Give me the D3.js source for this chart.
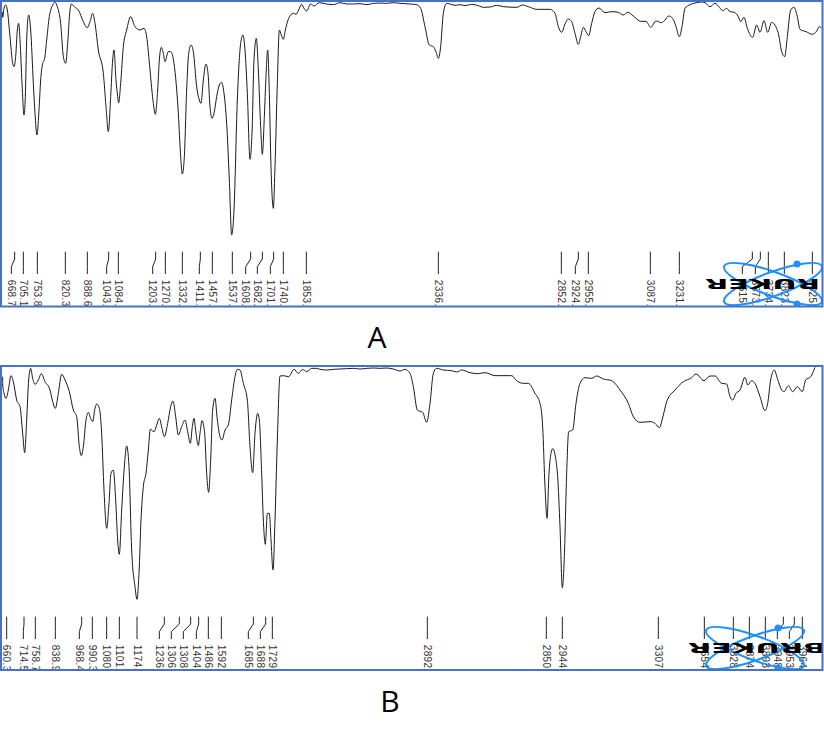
<!DOCTYPE html>
<html>

<head>
    <meta charset="utf-8">
    <title>IR spectra A and B</title>
    <style>
        html, body { margin: 0; padding: 0; background: #fff; }
        svg { display: block; }
    </style>
</head>

<body>
    <script src="https://d3js.org/d3.v7.min.js"></script>
    <script>
    // readings: [scan position, depth below the panel top]
    var spectrumA = [[8,36],[8,52],[12,25],[17,15],[22,30],[30,110],[38,190],[42,200],[47,170],[52,90],[56,70],[60,120],[66,250],[72,345],[76,290],[80,120],[86,45],[92,90],[100,250],[105,340],[111,405],[117,330],[122,240],[127,195],[134,175],[140,120],[148,50],[158,15],[165,7],[172,20],[182,70],[190,170],[197,190],[203,130],[210,30],[214,12],[225,22],[235,30],[250,65],[262,83],[270,65],[278,40],[285,70],[295,150],[310,220],[318,320],[325,395],[332,290],[338,180],[342,150],[348,240],[353,290],[356,308],[362,250],[370,140],[380,90],[392,50],[405,80],[420,90],[432,85],[440,110],[450,210],[460,310],[466,343],[473,270],[478,180],[484,142],[490,160],[495,185],[505,155],[512,155],[522,190],[535,340],[542,470],[547,522],[553,470],[560,270],[566,160],[573,135],[580,155],[590,260],[598,300],[603,310],[610,240],[618,192],[624,220],[630,320],[636,355],[642,340],[650,290],[658,255],[665,247],[672,280],[680,370],[688,540],[695,705],[702,630],[712,300],[722,130],[729,105],[735,150],[742,280],[750,478],[756,400],[762,180],[769,115],[775,210],[782,380],[787,463],[793,350],[798,230],[803,150],[808,280],[813,500],[820,625],[825,500],[832,250],[838,90],[844,105],[850,118],[856,90],[866,55],[880,40],[888,43],[896,30],[905,13],[912,25],[920,33],[932,12],[942,18],[958,8],[980,12],[1000,14],[1020,8],[1040,12],[1060,12],[1080,11],[1100,14],[1120,10],[1140,9],[1160,10],[1180,8],
        [1200,10],[1230,12],[1250,14],[1262,25],[1275,80],[1288,135],[1300,140],[1308,155],[1315,175],[1322,140],[1330,40],[1340,10],[1350,12],[1365,16],[1380,14],[1395,17],[1415,13],[1435,17],[1450,22],[1470,21],[1490,16],[1510,20],[1550,22],[1568,15],[1585,20],[1610,28],[1650,28],[1665,40],[1675,80],[1685,97],[1695,72],[1705,57],[1715,65],[1725,100],[1735,133],[1742,110],[1750,82],[1758,95],[1766,107],[1775,70],[1785,35],[1797,24],[1815,38],[1835,35],[1855,37],[1870,45],[1883,37],[1900,48],[1922,64],[1938,64],[1952,82],[1968,63],[1985,68],[1995,60],[2005,48],[2018,55],[2028,80],[2038,110],[2046,80],[2055,25],[2070,14],[2090,8],[2105,6],[2115,8],[2130,20],[2145,10],[2158,22],[2168,32],[2180,25],[2190,35],[2203,37],[2215,50],[2222,65],[2232,52],[2242,85],[2258,112],[2270,75],[2280,97],[2292,62],[2303,97],[2315,67],[2335,100],[2345,155],[2354,170],[2362,110],[2372,30],[2382,22],[2392,50],[2400,88],[2418,95],[2438,103],[2450,93],[2458,80],[2465,85]];

    var spectrumB = [[8,50],[8,72],[12,100],[18,115],[25,90],[33,47],[40,65],[50,120],[60,140],[68,220],[74,278],[80,180],[86,60],[92,25],[98,55],[105,73],[115,60],[124,41],[135,65],[150,90],[158,125],[166,145],[175,100],[185,43],[195,60],[208,95],[220,150],[230,170],[238,260],[244,287],[250,260],[258,180],[265,157],[272,175],[278,185],[285,145],[290,132],[298,145],[305,220],[312,390],[320,505],[327,430],[333,340],[340,330],[347,420],[353,540],[358,583],[365,450],[373,320],[380,258],[387,320],[395,570],[405,680],[411,718],[417,640],[423,480],[430,380],[438,340],[445,270],[451,208],[462,215],[470,195],[478,175],[486,205],[493,230],[503,190],[512,140],[519,123],[527,170],[535,225],[545,200],[555,180],[563,215],[571,250],[577,200],[582,175],[588,220],[595,257],[600,220],[606,182],[614,220],[620,340],[626,397],[632,300],[638,150],[645,115],[652,180],[660,230],[666,240],[675,210],[685,195],[695,120],[705,50],[712,28],[720,30],[730,70],[742,120],[750,260],[758,338],[765,220],[773,160],[778,180],[785,340],[790,480],[796,553],[802,460],[808,460],[813,540],[819,630],[825,480],[832,240],[840,48],[850,47],[866,50],[882,28],[895,40],[908,28],[920,35],[935,25],[950,25],[960,28],[980,30],[1000,28],[1020,27],[1040,26],[1060,25],[1080,27],[1100,25],[1120,24],[1140,25],[1160,24],[1180,27],
        [1200,33],[1215,28],[1230,40],[1240,80],[1252,150],[1268,157],[1280,187],[1290,130],[1300,40],[1310,25],[1330,30],[1355,32],[1370,36],[1385,30],[1410,38],[1435,41],[1455,38],[1485,47],[1535,47],[1550,62],[1570,70],[1585,70],[1605,100],[1620,130],[1628,200],[1635,380],[1641,475],[1647,340],[1653,280],[1658,266],[1667,295],[1673,350],[1680,500],[1687,683],[1693,590],[1700,340],[1706,215],[1718,210],[1728,130],[1740,70],[1755,53],[1775,55],[1790,48],[1810,57],[1835,62],[1860,90],[1885,130],[1900,170],[1920,187],[1950,185],[1965,190],[1978,203],[1990,165],[2000,125],[2025,90],[2050,65],[2075,53],[2088,42],[2112,62],[2130,48],[2145,48],[2165,70],[2180,72],[2190,110],[2198,120],[2208,100],[2220,90],[2235,52],[2243,75],[2255,62],[2265,70],[2280,110],[2295,152],[2303,130],[2312,60],[2323,30],[2332,55],[2345,90],[2352,95],[2365,77],[2378,95],[2392,80],[2407,95],[2417,60],[2432,50],[2445,22]];

    // peak picks: where the leader leaves the ruler, where it meets the label
    var peakTopA = [44,70,112,196,262,326,355,467,496,547,601,637,697,752,787,821,850,919,1315,1684,1735,1765,1951,2038,2257,2281,2305,2353,2437];
    var peakEndA = [34,70,112,196,262,320,355,458,496,547,598,637,697,737,772,811,850,919,1315,1684,1726,1765,1951,2038,2227,2266,2305,2353,2437];
    var peakLabelsA = ["668.7","705.1","753.8","820.3","888.6","1043.5","1084.7","1203.1","1270.6","1332.3","1411.7","1457.6","1537.2","1608.8","1682.4","1701.7","1740.8","1853.8","2336.8","2852.4","2924.0","2955.8","3087.1","3231.4","3615.1","3673.7","3734.4","3823.6","3925.2"];

    var peakTopB = [20,72,106,166,245,277,320,358,411,493,538,572,596,625,664,760,797,817,1282,1639,1687,1975,2113,2200,2248,2296,2350,2383,2407];
    var peakEndB = [20,70,106,166,238,277,320,358,411,478,514,550,589,625,664,745,781,817,1282,1639,1687,1975,2113,2200,2248,2296,2332,2368,2407];
    var peakLabelsB = ["660.3","714.5","758.7","838.9","968.4","990.3","1080.1","1101.2","1174.3","1236.7","1306.3","1308.8","1404.0","1486.1","1592.4","1685.5","1688.6","1729.1","2892.7","2850.1","2944.4","3307.3","3654.1","3828.0","3874.4","3893.2","3948.5","3953.2","3964.0"];

    var panelNames = ["A", "B"];

    const width = 824;
    const height = 746;
    const panelHeight = 310;
    const panelTop = { A: 0, B: 360 };
    const boxTop = { A: 1, B: 6 };
    const boxHeight = { A: 305.5, B: 304 };
    const captionPos = { A: [377, 348], B: [390, 712] };
    const logoCentre = { A: [773, 284], B: [755, 288] };
    const logoText = { A: 705, B: 688 };
    const logoDots = { A: 797, B: 778 };

    // readings are in thirds of a pixel
    var x = d3.scaleLinear().domain([0, 2472]).range([0, width]);
    var y = d3.scaleLinear().domain([0, 930]).range([0, panelHeight]);

    var line = d3.line()
        .x(function(d) { return x(d[0]); })
        .y(function(d) { return y(d[1]); });

    var smooth = d3.line()
        .curve(d3.curveMonotoneX)
        .x(function(d) { return x(d[0]); })
        .y(function(d) { return y(d[1]); });

    var svg = d3.select("body")
        .append("svg")
        .attr("width", width)
        .attr("height", height)
        .attr("viewBox", "0 0 " + width + " " + height);

    function drawPanel(name, spectrum, tops, ends, labels, yStart) {
        var g = svg.append("g").attr("transform", "translate(0," + panelTop[name] + ")");

        g.append("clipPath").attr("id", "clip" + name)
            .append("rect")
            .attr("x", 1).attr("y", boxTop[name])
            .attr("width", 821.5).attr("height", boxHeight[name]);

        var inner = g.append("g").attr("clip-path", "url(#clip" + name + ")");

        inner.append("path")
            .datum(spectrum)
            .attr("d", smooth)
            .attr("fill", "none")
            .attr("stroke", "#1a1a1a")
            .attr("stroke-width", 1);

        // leaders bend between the ruler and the label
        var leader = tops.map(function(t, i) {
            return [[t, yStart], [t, yStart + 22], [ends[i], yStart + 45], [ends[i], yStart + 67]];
        });
        inner.selectAll("path.leader")
            .data(leader)
            .enter()
            .append("path")
            .attr("class", "leader")
            .attr("d", line)
            .attr("fill", "none")
            .attr("stroke", "#222")
            .attr("stroke-width", 1);

        // rotate(90) puts the glyph tops on the +x side of the baseline
        inner.selectAll("text.peak")
            .data(labels)
            .enter()
            .append("text")
            .attr("class", "peak")
            .attr("transform", function(d, i) {
                return "translate(" + (x(ends[i]) - 3.5) + "," + y(yStart + 84) + ") rotate(90)";
            })
            .attr("font-family", "Liberation Sans, sans-serif")
            .attr("font-size", 10)
            .attr("letter-spacing", 0.4)
            .attr("fill", "#333")
            .text(function(d) { return d; });

        // instrument logo, upside down like the rest of the printout
        var c = logoCentre[name];
        [20, -20].forEach(function(angle) {
            inner.append("ellipse")
                .attr("cx", c[0]).attr("cy", c[1])
                .attr("rx", 52).attr("ry", 12)
                .attr("transform", "rotate(" + angle + " " + c[0] + " " + c[1] + ")")
                .attr("fill", "none")
                .attr("stroke", "#1e90ff")
                .attr("stroke-width", 2);
        });
        [-20, 20].forEach(function(dy) {
            inner.append("circle")
                .attr("cx", logoDots[name]).attr("cy", c[1] + dy)
                .attr("r", 3.5)
                .attr("fill", "#1e90ff");
        });
        inner.append("text")
            .attr("transform", "translate(" + (logoText[name] + 138) + "," + (c[1] - 5) + ") rotate(180)")
            .attr("font-family", "DejaVu Sans, sans-serif")
            .attr("font-weight", "bold")
            .attr("font-size", 14)
            .attr("textLength", 138)
            .attr("lengthAdjust", "spacingAndGlyphs")
            .attr("fill", "#000")
            .text("BRUKER");

        g.append("rect")
            .attr("x", 1).attr("y", boxTop[name])
            .attr("width", 821.5).attr("height", boxHeight[name])
            .attr("fill", "none")
            .attr("stroke", "#4472c4")
            .attr("stroke-width", 2);
    }

    drawPanel(panelNames[0], spectrumA, peakTopA, peakEndA, peakLabelsA, 755);
    drawPanel(panelNames[1], spectrumB, peakTopB, peakEndB, peakLabelsB, 770);

    panelNames.forEach(function(name) {
        svg.append("text")
            .attr("x", captionPos[name][0])
            .attr("y", captionPos[name][1])
            .attr("text-anchor", "middle")
            .attr("font-family", "Open Sans, sans-serif")
            .attr("font-size", 30)
            .attr("fill", "#000")
            .text(name);
    });
    </script>
</body>

</html>
